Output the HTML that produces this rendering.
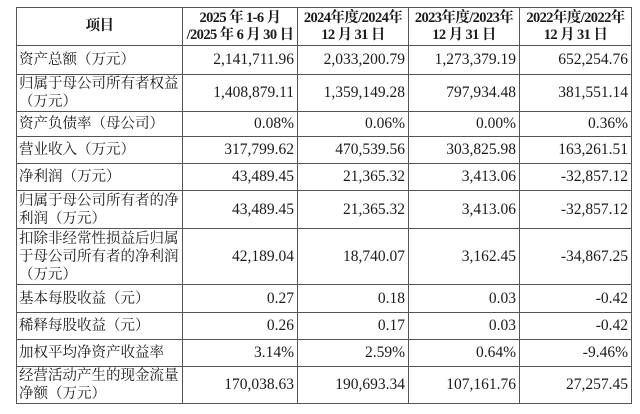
<!DOCTYPE html>
<html><head><meta charset="utf-8"><style>
body{margin:0;width:640px;height:414px;background:#fff;overflow:hidden}
table{position:absolute;left:16px;top:7px;width:615px;border-collapse:collapse;table-layout:fixed;font-family:"Liberation Serif","Noto Serif CJK SC",serif;font-size:15.5px;color:#1a1a1a}
td{border:1.3px solid #555;padding:0 3px;line-height:18px;text-align:right;white-space:nowrap;overflow:hidden}
td:first-child{text-align:left;padding-left:2px;font-size:14.5px;letter-spacing:0}
tr.h td{text-align:center;font-weight:bold;line-height:17px;font-size:14.5px;letter-spacing:-0.6px;padding:0}
</style></head><body>
<table>
<colgroup><col style="width:166px"><col style="width:115px"><col style="width:111px"><col style="width:111px"><col style="width:112px"></colgroup>
<tr class="h" style="height:38px"><td style="text-align:center">项目</td><td>2025 年 1-6 月<br>/2025 年 6 月 30 日</td><td>2024年度/2024年<br>12 月 31 日</td><td>2023年度/2023年<br>12 月 31 日</td><td>2022年度/2022年<br>12 月 31 日</td></tr>
<tr style="height:29px"><td>资产总额（万元）</td><td>2,141,711.96</td><td>2,033,200.79</td><td>1,273,379.19</td><td>652,254.76</td></tr>
<tr style="height:37px"><td>归属于母公司所有者权益<br>（万元）</td><td>1,408,879.11</td><td>1,359,149.28</td><td>797,934.48</td><td>381,551.14</td></tr>
<tr style="height:25px"><td>资产负债率（母公司）</td><td>0.08%</td><td>0.06%</td><td>0.00%</td><td>0.36%</td></tr>
<tr style="height:27px"><td>营业收入（万元）</td><td>317,799.62</td><td>470,539.56</td><td>303,825.98</td><td>163,261.51</td></tr>
<tr style="height:27px"><td>净利润（万元）</td><td>43,489.45</td><td>21,365.32</td><td>3,413.06</td><td>-32,857.12</td></tr>
<tr style="height:38px"><td>归属于母公司所有者的净<br>利润（万元）</td><td>43,489.45</td><td>21,365.32</td><td>3,413.06</td><td>-32,857.12</td></tr>
<tr style="height:56px"><td>扣除非经常性损益后归属<br>于母公司所有者的净利润<br>（万元）</td><td>42,189.04</td><td>18,740.07</td><td>3,162.45</td><td>-34,867.25</td></tr>
<tr style="height:28px"><td>基本每股收益（元）</td><td>0.27</td><td>0.18</td><td>0.03</td><td>-0.42</td></tr>
<tr style="height:27px"><td>稀释每股收益（元）</td><td>0.26</td><td>0.17</td><td>0.03</td><td>-0.42</td></tr>
<tr style="height:27px"><td>加权平均净资产收益率</td><td>3.14%</td><td>2.59%</td><td>0.64%</td><td>-9.46%</td></tr>
<tr style="height:37px"><td>经营活动产生的现金流量<br>净额（万元）</td><td>170,038.63</td><td>190,693.34</td><td>107,161.76</td><td>27,257.45</td></tr>
</table>
</body></html>
